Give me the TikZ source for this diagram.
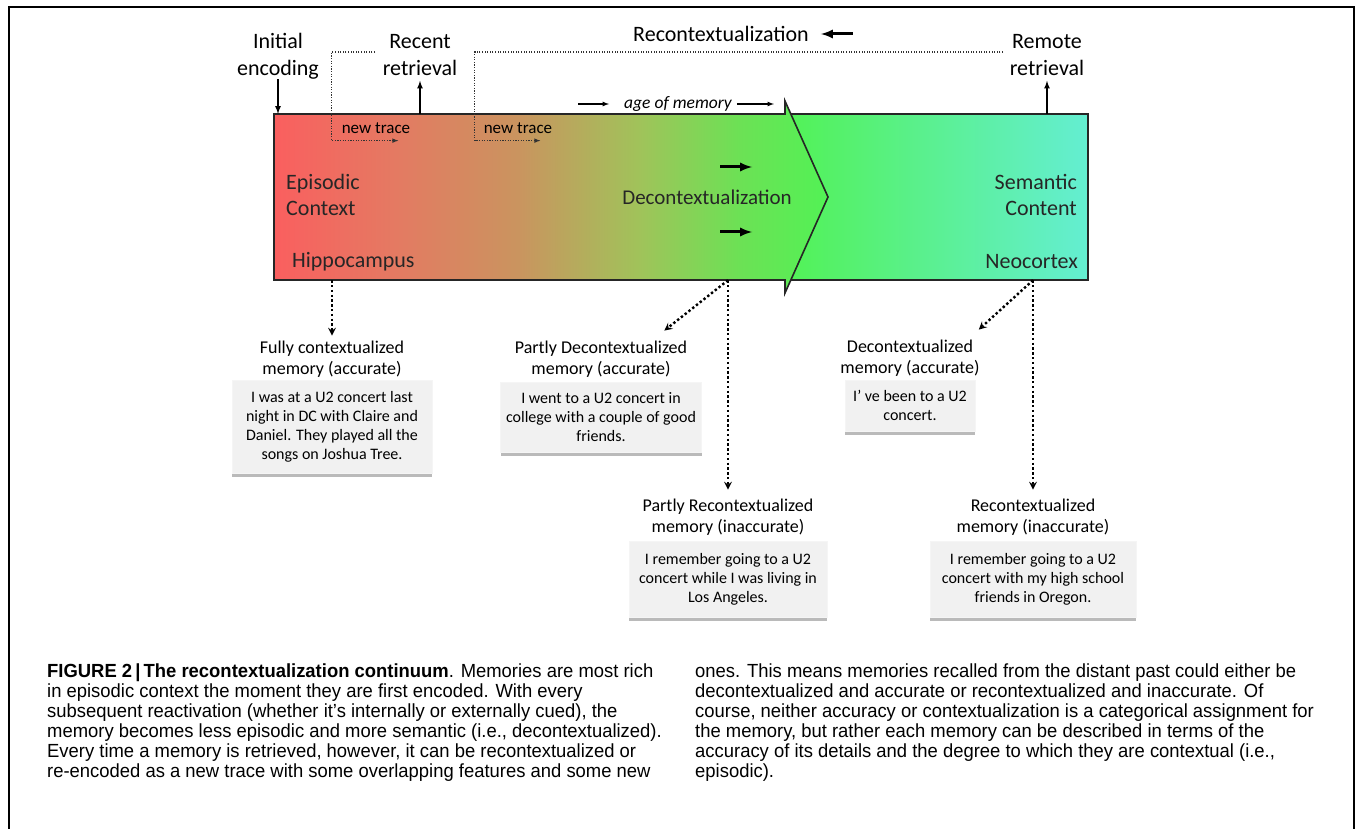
\documentclass[tikz,border=0pt]{standalone}
\usepackage{fontspec}
\setmainfont{Carlito}
\newfontfamily\capfont[FakeStretch=0.97]{Liberation Sans}
\usetikzlibrary{positioning}
\usetikzlibrary{arrows,shapes}
\usetikzlibrary{shadows}
\usetikzlibrary{calc}

\definecolor{epired}{RGB}{250,95,95}
\definecolor{salmon}{RGB}{228,122,98}
\definecolor{ochre}{RGB}{202,148,95}
\definecolor{olive}{RGB}{160,195,90}
\definecolor{leaf}{RGB}{108,225,85}
\definecolor{semgreen}{RGB}{82,242,85}
\definecolor{semcyan}{RGB}{100,238,210}
\definecolor{boxgray}{RGB}{241,241,241}

\pgfdeclarehorizontalshading{agebar}{100bp}{color(0bp)=(epired); color(25bp)=(epired); color(36bp)=(salmon); color(47bp)=(ochre); color(58bp)=(olive); color(67bp)=(leaf); color(75bp)=(semgreen); color(100bp)=(semgreen)}

\tikzset{
  toplbl/.style={align=center, inner sep=0pt, font=\fontsize{22}{27}\selectfont},
  barlbl/.style={inner sep=0pt, font=\fontsize{22}{26}\selectfont, text=black!85},
  tracelbl/.style={inner sep=0pt, font=\fontsize{17}{20}\selectfont},
  memlbl/.style={align=center, inner sep=0pt, font=\fontsize{18}{21}\selectfont},
  memobox/.style={align=center, fill=boxgray, draw=black!4, inner xsep=2pt, inner ysep=10pt,
    font=\fontsize{16}{19}\selectfont,
    drop shadow={shadow xshift=0pt, shadow yshift=-4pt, fill=black!45, opacity=0.6}},
  capstyle/.style={align=left, inner sep=0pt, font=\capfont\fontsize{19}{20}\selectfont},
  thinarrow/.style={-latex, line width=1.6pt},
  boldarrow/.style={-latex, line width=3pt},
  traceline/.style={-latex, dash pattern=on 1.1pt off 1.5pt, line width=1.1pt, black!80},
  dropline/.style={-stealth, dash pattern=on 2.4pt off 2.4pt, line width=2.4pt},
}

\begin{document}
\begin{tikzpicture}[x=1pt,y=-1pt]
\useasboundingbox (0,0) rectangle (1355,829);
% frame
\draw[line width=1.8pt] (9,840) -- (9,7) -- (1354,7) -- (1354,840);

% bar: semantic part first, age arrow on top
\shade[left color=semgreen, right color=semcyan, draw=black!85, line width=1.6pt] (785,114) rectangle (1088,280);
\shade[shading=agebar, draw=black!85, line width=1.6pt] (274,114) -- (785,114) -- (785,101) -- (828,197) -- (785,293) -- (785,280) -- (274,280) -- cycle;
\node[minimum width=814pt, minimum height=166pt, inner sep=0pt] (membar) at (681,197) {};

% labels above the bar
\node[toplbl] (initenc) at (278,56) {Initial\\encoding};
\node[toplbl] (recent) at (420,55) {Recent\\retrieval};
\node[toplbl] (remote) at (1047,55) {Remote\\retrieval};
\node[toplbl] (recon) at (721,34) {Recontextualization};
\draw[thinarrow] (initenc) -- (initenc |- membar.north);
\draw[thinarrow] (recent.south |- membar.north) -- ([yshift=-5pt]recent.south);
\draw[thinarrow] (remote.south |- membar.north) -- ([yshift=-5pt]remote.south);
\draw[boldarrow] ([xshift=44pt]recon.east) -- ([xshift=12pt]recon.east);

% new traces
\node[tracelbl] (trace1) at (376,128) {new trace};
\node[tracelbl] (trace2) at (518,128) {new trace};
\coordinate (t1start) at (375,52);
\coordinate (t2start) at (1003,52);
\draw[traceline] (t1start) -| ([shift={(-10pt,-7pt)}]trace1.south west) -- ([shift={(-12pt,-7pt)}]trace1.south east);
\draw[traceline] (t2start) -| ([shift={(-9pt,-7pt)}]trace2.south west) -- ([shift={(-12pt,-7pt)}]trace2.south east);

\node[tracelbl, font=\itshape\fontsize{17.5}{20}\selectfont] (agemem) at (678,104) {age of memory};
\draw[-latex, line width=1.2pt] ([xshift=-46pt]agemem.west) -- ([xshift=-15pt]agemem.west);
\draw[-latex, line width=1.2pt] ([xshift=5pt]agemem.east) -- ([xshift=42pt]agemem.east);

% inside the bar
\node[barlbl, align=left, anchor=west] (episodic) at (286,195) {Episodic\\Context};
\node[barlbl, anchor=west] (hippo) at (292,262) {Hippocampus};
\node[barlbl, font=\fontsize{21}{25}\selectfont, anchor=east] (decon) at (792,197) {Decontextualization};
\draw[boldarrow] ([shift={(-72pt,30pt)}]decon.east) -- ([shift={(-40pt,30pt)}]decon.east);
\draw[boldarrow] ([shift={(-72pt,-35pt)}]decon.east) -- ([shift={(-40pt,-35pt)}]decon.east);
\node[barlbl, align=right, anchor=east] (semantic) at (1077,195) {Semantic\\Content};
\node[barlbl, anchor=east] (neocortex) at (1078,262) {Neocortex};

% memories
\node[memlbl] (fullctx) at (332,359) {Fully contextualized\\memory (accurate)};
\node[memobox, minimum width=200pt, inner ysep=11pt, below=3pt of fullctx] (fullbox) {I was at a U2 concert last\\night in DC with Claire and\\Daniel. They played all the\\songs on Joshua Tree.};
\node[memlbl] (partdec) at (601,359) {Partly Decontextualized\\memory (accurate)};
\node[memobox, minimum width=201pt, below=5pt of partdec] (partdecbox) {I went to a U2 concert in\\college with a couple of good\\friends.};
\node[memlbl] (partrec) at (728,517) {Partly Recontextualized\\memory (inaccurate)};
\node[memobox, minimum width=198pt, inner ysep=12pt, below=6pt of partrec] (partrecbox) {I remember going to a U2\\concert while I was living in\\Los Angeles.};
\node[memlbl] (decmem) at (910,358) {Decontextualized\\memory (accurate)};
\node[memobox, minimum width=130pt, below=4pt of decmem] (decbox) {I' ve been to a U2\\concert.};
\node[memlbl] (recmem) at (1033,517) {Recontextualized\\memory (inaccurate)};
\node[memobox, minimum width=206pt, inner ysep=12pt, below=6pt of recmem] (recbox) {I remember going to a U2\\concert with my high school\\friends in Oregon.};

\draw[dropline] (fullctx.north |- membar.south) -- ([yshift=5pt]fullctx.north);
\draw[dropline] (partrec.north |- membar.south) -- ([yshift=9pt]partrec.north);
\draw[dropline] (partrec.north |- membar.south) -- ([shift={(-23pt,10pt)}]partdec.north east);
\draw[dropline] (recmem.north |- membar.south) -- ([yshift=9pt]recmem.north);
\draw[dropline] (recmem.north |- membar.south) -- ([shift={(-1pt,10pt)}]decmem.north east);

% caption
\node[capstyle, anchor=north west] (capleft) at (47,664) {\textbf{FIGURE 2\,|\,The recontextualization continuum}. Memories are most rich\\in episodic context the moment they are first encoded. With every\\subsequent reactivation (whether it’s internally or externally cued), the\\memory becomes less episodic and more semantic (i.e., decontextualized).\\Every time a memory is retrieved, however, it can be recontextualized or\\re-encoded as a new trace with some overlapping features and some new};
\node[capstyle, anchor=north west] (capright) at (695,664) {ones. This means memories recalled from the distant past could either be\\decontextualized and accurate or recontextualized and inaccurate. Of\\course, neither accuracy or contextualization is a categorical assignment for\\the memory, but rather each memory can be described in terms of the\\accuracy of its details and the degree to which they are contextual (i.e.,\\episodic).};
\end{tikzpicture}
\end{document}
